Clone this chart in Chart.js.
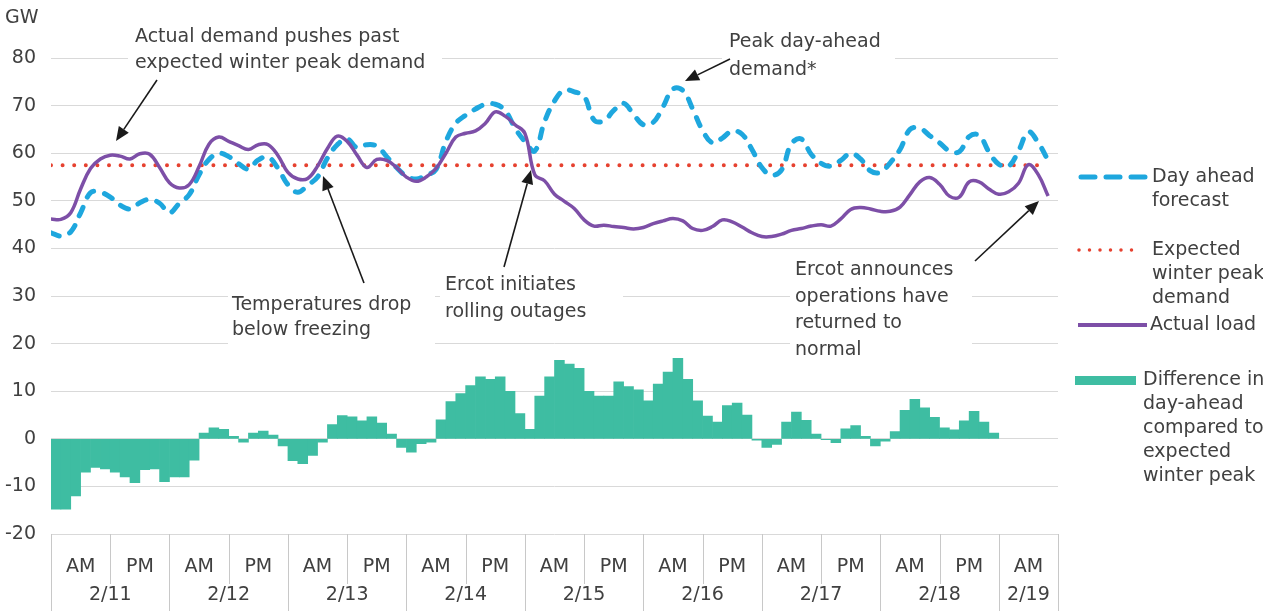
<!DOCTYPE html>
<html><head><meta charset="utf-8">
<script src="https://cdn.jsdelivr.net/npm/chart.js@4.4.1/dist/chart.umd.min.js"></script>
<style>html,body{margin:0;padding:0;background:#fff;overflow:hidden}#wrap{width:1263px;height:611px;position:relative}</style>
</head><body><div id="wrap"><canvas id="c" width="1263" height="611"></canvas></div>
<script>
// ---- data ----
const dateLabels = ['2/11','2/12','2/13','2/14','2/15','2/16','2/17','2/18','2/19'];
const periodLabels = ['AM','PM'];
const periodsPerDay = [2,2,2,2,2,2,2,2,1];
const unitLabel = 'GW';
const yTickMin = -20, yTickMax = 90, yTickStep = 10;

// line series: one value every 2 hours, starting 2/11 00:00
const actualLoad = [46.2,46.1,47.5,52.5,56.8,58.8,59.6,59.4,58.8,59.9,
 59.8,57,53.8,52.7,53.4,57.2,61.9,63.4,62.5,61.6,
 60.8,61.8,61.8,59.5,56,54.6,54.7,57.3,61,63.6,
 62.5,59.6,57,58.7,58.5,57,55,54.1,55,56.8,
 60,63.4,64.2,64.7,66.3,68.7,67.8,66,64.2,55.5,
 54.2,51.4,49.9,48.4,46,44.7,44.9,44.6,44.4,44.1,
 44.4,45.2,45.8,46.3,45.8,44.2,43.8,44.6,46,45.6,
 44.5,43.3,42.5,42.5,43,43.8,44.2,44.7,45,44.7,
 46.2,48.2,48.6,48.3,47.8,47.8,48.7,51.3,54,54.9,
 53.5,51,50.8,54,54,52.5,51.4,51.9,53.7,57.6,
 55.5,51];
const dayAhead = [43.3,42.6,43.5,47.5,51.7,51.8,50.8,49.1,48.3,49.6,
 50.3,49.5,47.5,49.5,51.3,55.5,58.7,60,59.3,57.8,
 56.7,58.6,59.2,56.8,53.4,51.8,53.3,55,59,61.8,
 63,61.2,61.8,61.5,59.3,57,55.2,54.6,55.4,56.6,
 62.5,66.3,68,69.3,70.3,70.3,69,65.3,62.5,60.5,
 66.7,71,73.3,72.9,72,67,66.8,69,70.5,68.2,
 66,66.5,69.8,73.5,73.2,69.3,64.8,62.2,63.2,64.7,
 64,60.8,57,55.4,56.5,62,63,59.8,57.9,57.3,
 58.5,60,58.8,56.3,56,58,60.8,65,65.3,63.7,
 62.2,60.5,60.3,63.5,63.8,60.3,57.7,57.3,60.5,64.5,
 62.2,58.5];
// difference bars: one value per 2-hour block
const difference = [-14.8,-14.8,-12,-7,-6,-6.3,-7,-8,-9.2,-6.5,
 -6.3,-9,-8,-8,-4.5,1.2,2.3,2,0.5,-0.7,
 1.2,1.6,0.8,-1.5,-4.6,-5.2,-3.5,-0.7,3,4.9,
 4.6,3.8,4.6,3.3,1,-1.8,-2.8,-1,-0.7,4,
 7.8,9.5,11.2,13,12.5,13,10,5.3,2,9,
 13,16.5,15.7,14.8,10,9,9,12,11,10.3,
 8,11.5,14,16.9,12.5,8,4.8,3.5,7,7.5,
 5,-0.3,-1.8,-1.2,3.5,5.6,3.9,1,-0.2,-0.8,
 2.1,2.8,0.5,-1.5,-0.5,1.5,6,8.3,6.5,4.5,
 2.3,1.9,3.8,5.8,3.5,1.2];
const expectedHours = [0, 202];
const expectedPeak = [57.5, 57.5];

const lineHours = actualLoad.map((_, i) => i * 2);
const barHours = difference.map((_, i) => i * 2 + 1);
const totalHours = 204;

// ---- styles ----
const BLUE = '#1ea7de', PURPLE = '#7d4fa7', RED = '#e6412f', TEAL = '#3ebda2', TXT = '#404040', GRID = '#d9d9d9', SEP = '#c8c8c8';
const FONT = '"DejaVu Sans", sans-serif';

const annotations = [
  {lines:['Actual demand pushes past','expected winter peak demand'], x:135, y:37, lh:26, box:[128,22,442,78], arrow:[157,80,116,141]},
  {lines:['Peak day-ahead','demand*'], x:729, y:42, lh:28, box:[722,26,895,84], arrow:[730,59,685,81]},
  {lines:['Temperatures drop','below freezing'], x:232, y:305, lh:25, box:[228,290,435,348], arrow:[364,283,323,176]},
  {lines:['Ercot initiates','rolling outages'], x:445, y:285, lh:27, box:[440,270,623,325], arrow:[504,267,531,170]},
  {lines:['Ercot announces','operations have','returned to','normal'], x:795, y:270, lh:26.7, box:[790,256,972,362], arrow:[975,261,1039,201]}
];
const legendItems = [
  {kind:'dash', color:BLUE, lines:['Day ahead','forecast'], y:177, tx:1152},
  {kind:'dot', color:RED, lines:['Expected','winter peak','demand'], y:250, tx:1152},
  {kind:'line', color:PURPLE, lines:['Actual load'], y:325, tx:1150},
  {kind:'rect', color:TEAL, lines:['Difference in','day-ahead','compared to','expected','winter peak'], y:380, tx:1143}
];

function arrow(ctx, x1, y1, x2, y2){
  const a = Math.atan2(y2 - y1, x2 - x1), L = 14, W = 6;
  const bx = x2 - L * Math.cos(a), by = y2 - L * Math.sin(a);
  ctx.beginPath(); ctx.moveTo(x1, y1); ctx.lineTo(bx, by); ctx.stroke();
  ctx.beginPath(); ctx.moveTo(x2, y2);
  ctx.lineTo(bx + W * Math.sin(a), by - W * Math.cos(a));
  ctx.lineTo(bx - W * Math.sin(a), by + W * Math.cos(a));
  ctx.closePath(); ctx.fill();
}

const overlay = {
  id: 'overlay',
  beforeDatasetsDraw(chart){
    const ctx = chart.ctx; ctx.save(); ctx.fillStyle = '#fff';
    for (const a of annotations){ const b = a.box; ctx.fillRect(b[0], b[1], b[2]-b[0], b[3]-b[1]); }
    ctx.restore();
  },
  afterDraw(chart){
    const ctx = chart.ctx, xs = chart.scales.x, ca = chart.chartArea;
    ctx.save();
    // x-axis category box
    ctx.strokeStyle = SEP; ctx.lineWidth = 1;
    const bottom = chart.height;
    const px = h => Math.round(xs.getPixelForValue(h)) + 0.5;
    for (let k = 0; k <= dateLabels.length; k++){
      const h = Math.min(k * 24, totalHours);
      ctx.beginPath(); ctx.moveTo(px(h), ca.bottom); ctx.lineTo(px(h), bottom); ctx.stroke();
    }
    for (let k = 0; k < dateLabels.length; k++){
      if (periodsPerDay[k] === 2){
        const h = k * 24 + 12;
        ctx.beginPath(); ctx.moveTo(px(h), ca.bottom); ctx.lineTo(px(h), ca.bottom + 50); ctx.stroke();
      }
    }
    ctx.fillStyle = TXT; ctx.font = '19px ' + FONT; ctx.textAlign = 'center'; ctx.textBaseline = 'middle';
    for (let k = 0; k < dateLabels.length; k++){
      const n = periodsPerDay[k];
      for (let p = 0; p < n; p++){
        const h = n === 2 ? k * 24 + 6 + p * 12 : k * 24 + 6;
        ctx.fillText(periodLabels[p], xs.getPixelForValue(h), 567);
      }
      const hc = n === 2 ? k * 24 + 12 : k * 24 + 6;
      ctx.fillText(dateLabels[k], xs.getPixelForValue(hc), 595);
    }
    // unit label
    ctx.textAlign = 'left';
    ctx.fillText(unitLabel, 5, 18);
    // annotations
    for (const a of annotations){
      ctx.fillStyle = TXT;
      a.lines.forEach((t, i) => ctx.fillText(t, a.x, a.y + i * a.lh));
      ctx.strokeStyle = '#1a1a1a'; ctx.fillStyle = '#1a1a1a'; ctx.lineWidth = 1.6;
      arrow(ctx, ...a.arrow);
    }
    // legend
    for (const it of legendItems){
      ctx.save();
      if (it.kind === 'dash'){
        ctx.strokeStyle = it.color; ctx.lineWidth = 5; ctx.lineCap = 'round'; ctx.setLineDash([14, 11]);
        ctx.beginPath(); ctx.moveTo(1081, it.y); ctx.lineTo(1146, it.y); ctx.stroke();
      } else if (it.kind === 'dot'){
        ctx.strokeStyle = it.color; ctx.lineWidth = 3.5; ctx.lineCap = 'round'; ctx.setLineDash([0, 10.5]);
        ctx.beginPath(); ctx.moveTo(1079, it.y); ctx.lineTo(1138, it.y); ctx.stroke();
      } else if (it.kind === 'line'){
        ctx.strokeStyle = it.color; ctx.lineWidth = 4;
        ctx.beginPath(); ctx.moveTo(1078, it.y); ctx.lineTo(1147, it.y); ctx.stroke();
      } else {
        ctx.fillStyle = it.color; ctx.fillRect(1075, it.y - 4, 61, 9);
      }
      ctx.restore();
      ctx.fillStyle = TXT; ctx.textAlign = 'left';
      it.lines.forEach((t, i) => ctx.fillText(t, it.tx, it.y + i * 24));
    }
    ctx.restore();
  }
};

new Chart(document.getElementById('c'), {
  type: 'line',
  data: { datasets: [
    { type:'line', label:'Actual load', data: lineHours.map((h,i)=>({x:h, y:actualLoad[i]})),
      borderColor: PURPLE, borderWidth: 3.5, pointRadius: 0, tension: 0.4, fill:false, order: 1 },
    { type:'line', label:'Day ahead forecast', data: lineHours.map((h,i)=>({x:h, y:dayAhead[i]})),
      borderColor: BLUE, borderWidth: 5, borderDash:[9,11], borderCapStyle:'round', pointRadius: 0, tension: 0.4, fill:false, order: 2 },
    { type:'line', label:'Expected winter peak demand', data: expectedHours.map((h,i)=>({x:h, y:expectedPeak[i]})),
      borderColor: RED, borderWidth: 4, borderDash:[0,11.6], borderCapStyle:'round', pointRadius: 0, tension: 0, fill:false, order: 3 },
    { type:'bar', label:'Difference in day-ahead compared to expected winter peak', data: barHours.map((h,i)=>({x:h, y:difference[i]})),
      backgroundColor: TEAL, borderWidth: 0, barPercentage: 1, categoryPercentage: 1, grouped:false, order: 4 }
  ]},
  options: {
    responsive: false, animation: false, devicePixelRatio: 1,
    layout: { padding: { left: 0, right: 205, top: 10.5, bottom: 0 } },
    plugins: { legend: { display: false }, tooltip: { enabled: false } },
    scales: {
      x: { type:'linear', min: 0, max: totalHours, offset: false,
           grid: { display: false }, border: { display: false }, ticks: { display: false },
           afterFit(s){ s.height = 77; s.paddingLeft = 0; s.paddingRight = 0; } },
      y: { min: yTickMin, max: yTickMax,
           ticks: { stepSize: yTickStep, padding: 15, color: TXT, font: { family: 'DejaVu Sans', size: 19 },
                    callback: v => v === yTickMax ? '' : v },
           grid: { color: c => c.tick && c.tick.value === yTickMax ? 'rgba(0,0,0,0)' : GRID, drawTicks: false, lineWidth: 1 },
           border: { display: false },
           afterFit(s){ s.width = 51; s.paddingTop = 0; s.paddingBottom = 0; } }
    }
  },
  plugins: [overlay]
});
</script>
</body></html>
